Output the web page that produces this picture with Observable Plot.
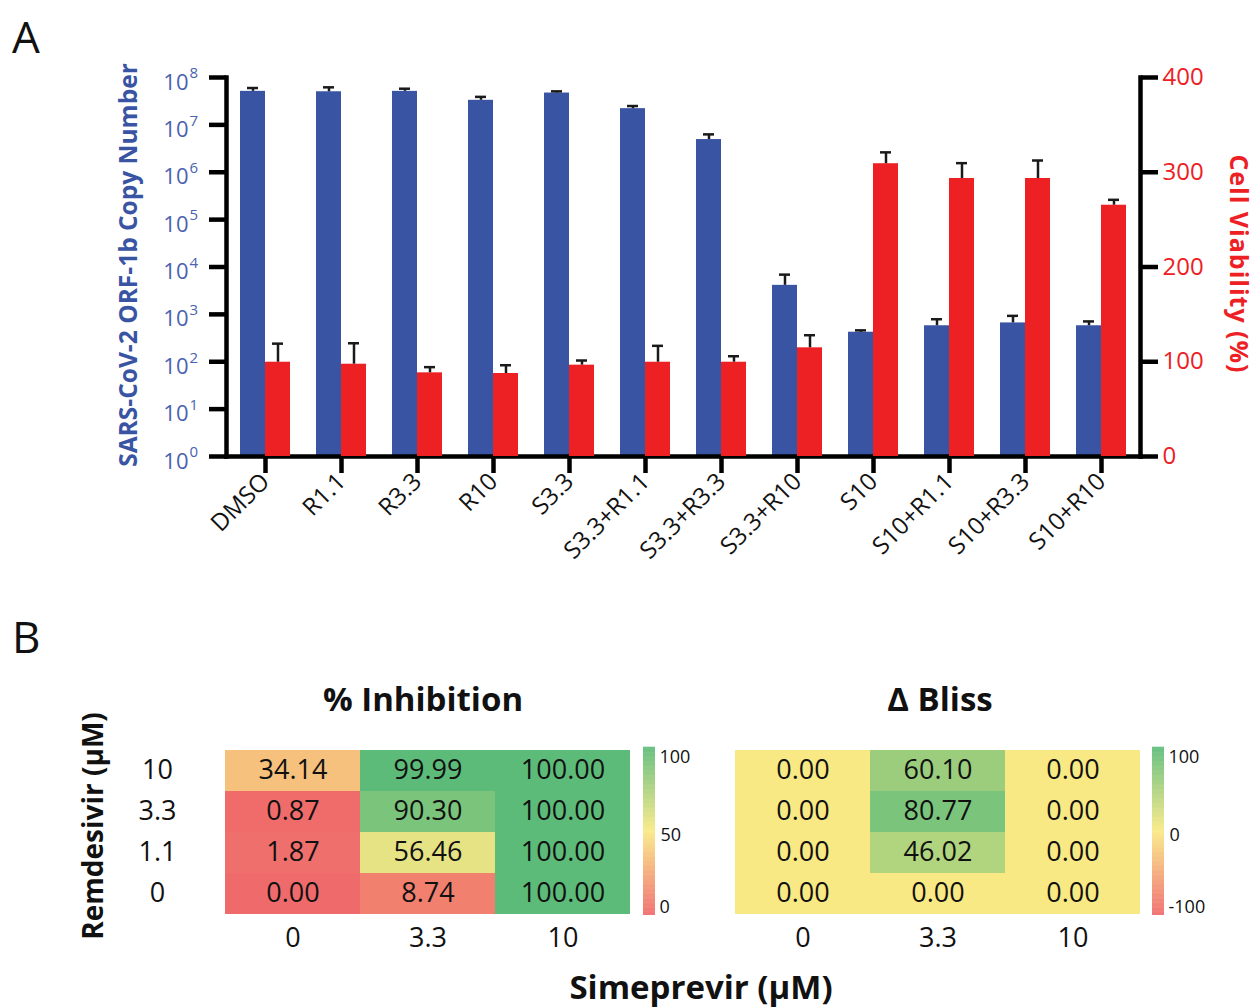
<!DOCTYPE html>
<html>
<head>
<meta charset="utf-8">
<script src="https://cdn.jsdelivr.net/npm/d3@7"></script>
<script src="https://cdn.jsdelivr.net/npm/@observablehq/plot@0.6"></script>
<style>
  html, body { margin: 0; padding: 0; background: #fff; }
  #root { position: relative; width: 1257px; height: 1007px; overflow: hidden; font-family: 'Open Sans', sans-serif; color: #111; }
  .lbl { position: absolute; white-space: nowrap; line-height: 1; }
</style>
</head>
<body>
<div id="root"></div>
<script>
// ---------- Panel A data ----------
const categories = ["DMSO","R1.1","R3.3","R10","S3.3","S3.3+R1.1","S3.3+R3.3","S3.3+R10","S10","S10+R1.1","S10+R3.3","S10+R10"];
const copyNumber      = [5.1e7, 5.0e7, 5.1e7, 3.3e7, 4.7e7, 2.2e7, 4.9e6, 4.1e3, 420, 575, 660, 575];
const copyNumberUpper = [6.0e7, 6.2e7, 5.8e7, 3.9e7, 5.1e7, 2.5e7, 6.3e6, 6.9e3, 460, 790, 930, 710];
const viability   = [99.5, 97.4, 88.3, 87.6, 96.4, 99.5, 99.5, 114.7, 309, 293.4, 293.4, 265.2];
const viabilitySD = [19.6, 22.1, 6.0, 8.7, 4.9, 17.3, 6.3, 13.3, 12, 16.2, 19.0, 5.7];
const copyTicks = [1, 10, 100, 1e3, 1e4, 1e5, 1e6, 1e7, 1e8];
const viabilityTicks = [0, 100, 200, 300, 400];

// ---------- Panel B data ----------
const simeprevir = ["0", "3.3", "10"];
const remdesivir = ["10", "3.3", "1.1", "0"];
const inhibition = [
  [34.14, 99.99, 100.00],
  [0.87, 90.30, 100.00],
  [1.87, 56.46, 100.00],
  [0.00, 8.74, 100.00]
];
const deltaBliss = [
  [0.00, 60.10, 0.00],
  [0.00, 80.77, 0.00],
  [0.00, 46.02, 0.00],
  [0.00, 0.00, 0.00]
];
const inhibitionLegendTicks = [100, 50, 0];
const blissLegendTicks = [100, 0, -100];

// ---------- styles ----------
const BLUE = "#3a54a4";
const BLUE_TEXT = "#4a62b0";
const RED = "#ed2024";
const HM_RED = "#ef6a6b", HM_YEL = "#f9e984", HM_GRN = "#5dbb79";
const FONT = "'Open Sans', sans-serif";
const root = document.getElementById("root");

function place(node, left, top) {
  node.style.position = "absolute";
  node.style.left = left + "px";
  node.style.top = top + "px";
  root.appendChild(node);
}
function label(text, x, y, css) {
  const d = document.createElement("div");
  d.className = "lbl";
  d.textContent = text;
  d.style.left = x + "px";
  d.style.top = y + "px";
  Object.assign(d.style, css || {});
  root.appendChild(d);
  return d;
}

const exponent = d => String(Math.round(Math.log10(d)));

const barData = categories.map((c, i) => ({
  category: c,
  copy: copyNumber[i],
  copyHi: copyNumberUpper[i],
  via: viability[i],
  viaHi: viability[i] + viabilitySD[i]
}));

const svgStyle = {background: "none", overflow: "visible", fontFamily: FONT, maxWidth: "none"};
const topFrame = {
  width: 1257, height: 600,
  marginTop: 77, marginBottom: 144, marginLeft: 226, marginRight: 117,
  style: svgStyle
};
const xBand = {type: "band", domain: categories, paddingInner: 0.344, paddingOuter: 0.17};

// Blue (log) layer
const bluePlot = Plot.plot({
  ...topFrame,
  x: {...xBand},
  y: {type: "log", domain: [1, 1e8]},
  marks: [
    Plot.barY(barData, {x: "category", y1: 1, y2: "copy", fill: BLUE, insetRight: 25, insetLeft: 0}),
    Plot.ruleX(barData, {x: "category", y1: "copy", y2: "copyHi", dx: -12.5, stroke: "#1a1a1a", strokeWidth: 2.5}),
    Plot.tickY(barData, {x: "category", y: "copyHi", insetLeft: 7, insetRight: 32, stroke: "#1a1a1a", strokeWidth: 2.5}),
    Plot.axisY({ticks: copyTicks, tickFormat: () => "", tickSize: 17, strokeWidth: 4.5, stroke: "#000", label: null}),
    Plot.text(copyTicks, {y: d => d, text: () => "10", frameAnchor: "left", textAnchor: "end", dx: -38, dy: 5, fontSize: 22, fill: BLUE_TEXT}),
    Plot.text(copyTicks, {y: d => d, text: exponent, frameAnchor: "left", textAnchor: "start", dx: -37, dy: -4, fontSize: 15, fill: BLUE_TEXT}),
    Plot.axisX({tickSize: 17, tickPadding: 4, strokeWidth: 4.5, stroke: "#000", fill: "#111", tickRotate: -45, fontSize: 24, label: null}),
    Plot.frame({anchor: "left", stroke: "#000", strokeWidth: 4.5}),
    Plot.frame({anchor: "bottom", stroke: "#000", strokeWidth: 4.5})
  ]
});
place(bluePlot, 0, 0);

// Red (linear) layer
const redPlot = Plot.plot({
  ...topFrame,
  x: {...xBand, axis: null},
  y: {domain: [0, 400]},
  marks: [
    Plot.barY(barData, {x: "category", y: "via", fill: RED, insetLeft: 25, insetRight: 0}),
    Plot.ruleX(barData, {x: "category", y1: "via", y2: "viaHi", dx: 12.5, stroke: "#1a1a1a", strokeWidth: 2.5}),
    Plot.tickY(barData, {x: "category", y: "viaHi", insetLeft: 32, insetRight: 7, stroke: "#1a1a1a", strokeWidth: 2.5}),
    Plot.axisY({anchor: "right", ticks: viabilityTicks, tickSize: 17, tickPadding: 5, strokeWidth: 4.5, stroke: "#000", fill: RED, fontSize: 24, label: null}),
    Plot.frame({anchor: "right", stroke: "#000", strokeWidth: 4.5})
  ]
});
place(redPlot, 0, 0);

// Panel A labels
label("A", 12, 14, {fontSize: "44px"});
label("SARS-CoV-2 ORF-1b Copy Number", 128, 265, {fontSize: "24.5px", fontWeight: "700", color: BLUE, transform: "translate(-50%,-50%) rotate(-90deg)"});
label("Cell Viability (%)", 1239, 264, {fontSize: "25px", fontWeight: "700", letterSpacing: "1px", color: RED, transform: "translate(-50%,-50%) rotate(90deg)"});

// ---------- Panel B ----------
function gridData(values) {
  const out = [];
  remdesivir.forEach((r, i) => simeprevir.forEach((s, j) => out.push({rem: r, sim: s, value: values[i][j]})));
  return out;
}
const hmFrame = {height: 230, marginTop: 8, marginBottom: 55, style: svgStyle};

function heatmap(values, colorScale, marginLeft, marginRight, width, withY) {
  const data = gridData(values);
  const yScale = {type: "band", domain: remdesivir, padding: 0};
  if (!withY) yScale.axis = null;
  return Plot.plot({
    ...hmFrame, width, marginLeft, marginRight,
    x: {type: "band", domain: simeprevir, padding: 0},
    y: yScale,
    color: colorScale,
    marks: [
      Plot.cell(data, {x: "sim", y: "rem", fill: "value"}),
      Plot.text(data, {x: "sim", y: "rem", text: d => d.value.toFixed(2), fontSize: 27, fill: "#111", dy: -1}),
      Plot.axisX({tickSize: 0, tickPadding: 12, fontSize: 27, fill: "#111", label: null}),
      ...(withY ? [Plot.axisY({tickSize: 0, tickPadding: 67, textAnchor: "middle", fontSize: 27, fill: "#111", label: null, dy: -1})] : [])
    ]
  });
}
const inhColor = {type: "linear", domain: [0, 50, 100], range: [HM_RED, HM_YEL, HM_GRN], interpolate: "rgb"};
const blissColor = {type: "linear", domain: [-100, 0, 100], range: [HM_RED, HM_YEL, HM_GRN], interpolate: "rgb"};

place(heatmap(inhibition, inhColor, 224, 69, 700, true), 0, 740);
place(heatmap(deltaBliss, blissColor, 735, 117, 1257, false), 0, 740);

function legend(colorScale, ticks) {
  const [lo, , hi] = colorScale.domain;
  const step = (hi - lo) / 300;
  const ramp = d3.range(lo, hi, step);
  return Plot.plot({
    width: 100, height: 190, marginLeft: 0, marginRight: 88, marginTop: 7, marginBottom: 15,
    style: svgStyle,
    x: {domain: [0, 1], axis: null},
    y: {domain: [lo, hi], axis: null},
    color: colorScale,
    marks: [
      Plot.rect(ramp, {x1: 0, x2: 1, y1: d => d, y2: d => d + step * 1.5, fill: d => d}),
      Plot.text([ticks[0]], {y: d => d, text: d => String(d), frameAnchor: "right", textAnchor: "start", dx: 4, dy: 10, fontSize: 18, fill: "#111"}),
      Plot.text([ticks[1]], {y: d => d, text: d => String(d), frameAnchor: "right", textAnchor: "start", dx: 5, dy: 4, fontSize: 18, fill: "#111"}),
      Plot.text([ticks[2]], {y: d => d, text: d => String(d), frameAnchor: "right", textAnchor: "start", dx: 4, dy: -8, fontSize: 18, fill: "#111"})
    ]
  });
}
place(legend(inhColor, inhibitionLegendTicks), 643, 740);
place(legend(blissColor, blissLegendTicks), 1152, 740);

label("B", 12, 614, {fontSize: "44px"});
label("% Inhibition", 423, 698, {fontSize: "33px", fontWeight: "700", transform: "translate(-50%,-50%)"});
label("Δ Bliss", 940, 698, {fontSize: "33px", fontWeight: "700", transform: "translate(-50%,-50%)"});
label("Remdesivir (μM)", 92, 826, {fontSize: "28px", fontWeight: "700", transform: "translate(-50%,-50%) rotate(-90deg)"});
label("Simeprevir (μM)", 701, 986, {fontSize: "33px", fontWeight: "700", transform: "translate(-50%,-50%)"});
</script>
</body>
</html>
